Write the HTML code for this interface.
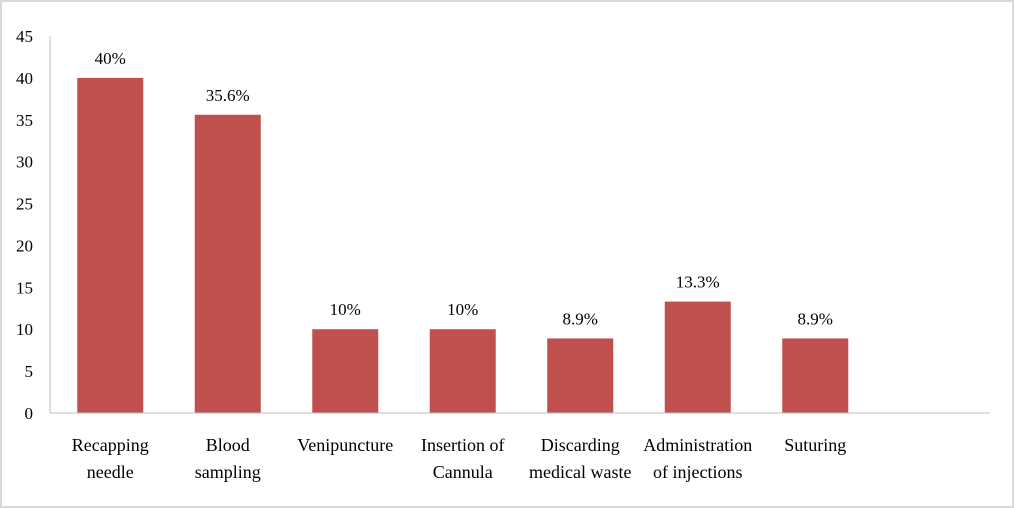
<!DOCTYPE html>
<html><head><meta charset="utf-8"><style>
body{margin:0;background:#fff}
#frame{position:absolute;left:0;top:0;width:1010px;height:504px;border:2px solid #d9d9d9;background:#fff}
svg text{font-family:"Liberation Serif",serif;fill:#000}
</style></head><body>
<div id="frame"></div>
<svg id="c" width="1014" height="508" style="position:absolute;left:0;top:0"></svg>
<script>
const categories=[["Recapping","needle"],["Blood","sampling"],["Venipuncture"],["Insertion of","Cannula"],["Discarding","medical waste"],["Administration","of injections"],["Suturing"]];
const values=[40,35.6,10,10,8.9,13.3,8.9];
const labels=["40%","35.6%","10%","10%","8.9%","13.3%","8.9%"];
const ticks=[0,5,10,15,20,25,30,35,40,45];
const svg=document.getElementById('c');const NS="http://www.w3.org/2000/svg";
const x0=50,x1=990,y0=413,y1=36,ymax=45,slots=8;
const sw=(x1-x0)/slots;
const y=v=>y0-(v/ymax)*(y0-y1);
function mk(t,a,txt){const e=document.createElementNS(NS,t);for(const k in a)e.setAttribute(k,a[k]);if(txt!==undefined)e.textContent=txt;svg.appendChild(e);return e;}
ticks.forEach(t=>{const e=mk('text',{x:33,y:y(t)+6,'text-anchor':'end','font-size':17},t);

});
values.forEach((v,i)=>{const cx=x0+sw*(i+0.5)+1.5;
const r=mk('rect',{x:cx-33,y:y(v),width:66,height:y0-y(v),fill:'#c0504d'});


const l=mk('text',{x:cx,y:y(v)-14,'text-anchor':'middle','font-size':17},labels[i]);


categories[i].forEach((s,j)=>{const t=mk('text',{x:cx,y:451+j*27,'text-anchor':'middle','font-size':18},s);

});});
const ax=mk('line',{x1:x0,y1:y1,x2:x0,y2:y0,stroke:'#bfbfbf','stroke-width':1});


const bx=mk('line',{x1:x0,y1:y0,x2:x1,y2:y0,stroke:'#bfbfbf','stroke-width':1});


</script>
</body></html>
